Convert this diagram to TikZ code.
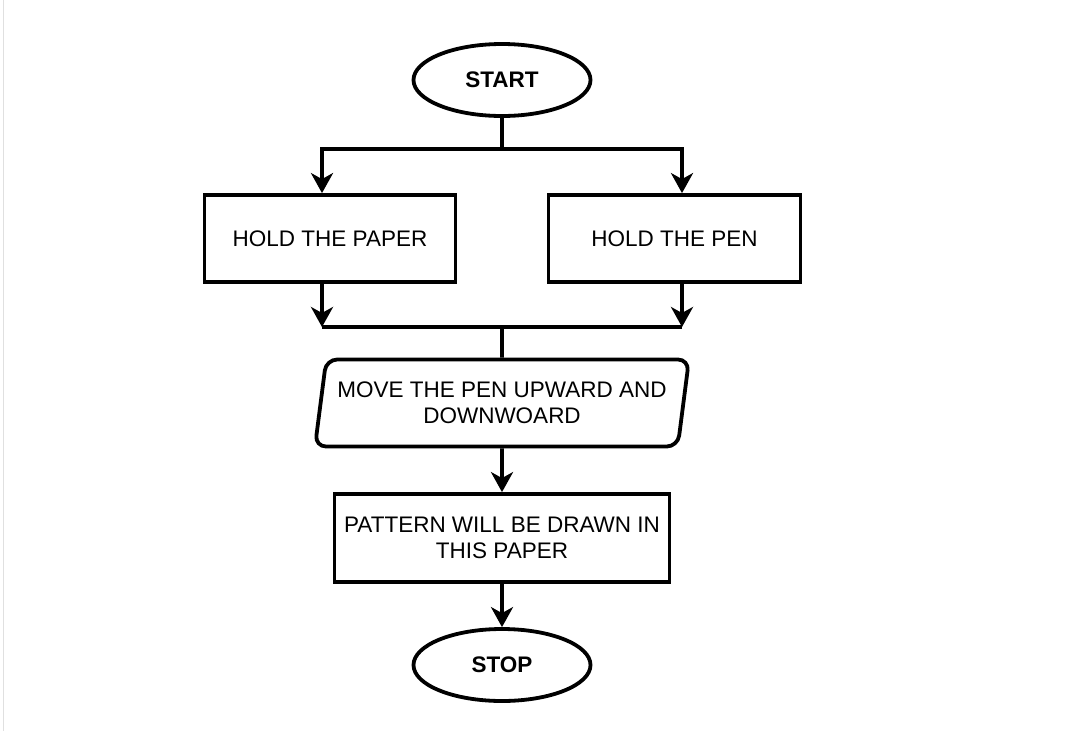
\documentclass[tikz,border=0pt]{standalone}
\usepackage{fontspec}
\setmainfont{Liberation Sans}
\usetikzlibrary{shapes.geometric,arrows.meta}
\tikzset{
  flowline/.style={line width=3.8pt},
  flowarrow/.style={flowline,-{Stealth[length=20pt,width=22pt,inset=6pt]}},
  terminal/.style={draw,ellipse,line width=3.8pt,minimum width=177pt,minimum height=72pt,
    inner sep=0pt,font=\fontsize{22.5}{26}\selectfont\bfseries},
  process/.style={draw,rectangle,line width=3.8pt,align=center,inner sep=0pt,
    font=\fontsize{22.5}{26}\selectfont},
  inout/.style={draw,trapezium,trapezium left angle=75,trapezium right angle=105,
    trapezium stretches body,rounded corners=11pt,line width=3.8pt,align=center,inner sep=0pt,
    minimum width=374pt,minimum height=87pt,font=\fontsize{22.5}{26}\selectfont}
}
\begin{document}
\begin{tikzpicture}[x=1pt,y=-1pt]
\useasboundingbox (0,0) rectangle (1070,731);
\draw[black!12,line width=1.5pt] (3.5,0) -- (3.5,731);

\node[terminal] (start) at (502,80) {START};
\node[process,minimum width=251pt,minimum height=87pt] (paper) at (330,238.5) {HOLD THE PAPER};
\node[process,minimum width=252pt,minimum height=87pt] (pen) at (674.5,238.5) {HOLD THE PEN};
\node[inout] (move) at (502,403) {MOVE THE PEN UPWARD AND\\DOWNWOARD};
\node[process,minimum width=335pt,minimum height=88pt] (pattern) at (502,538) {PATTERN WILL BE DRAWN IN\\THIS PAPER};
\node[terminal] (stop) at (502,665) {STOP};

% split and merge points
\coordinate (split) at (502,149);
\coordinate (splitL) at (322,149);
\coordinate (splitR) at (682,149);
\coordinate (mergeL) at (322,327);
\coordinate (mergeR) at (682,327);
\coordinate (merge) at (502,327);

\draw[flowline] (start) -- (split);
\draw[flowline,line cap=rect] (splitL) -- (splitR);
\draw[flowarrow] (splitL) -- (splitL |- paper.north);
\draw[flowarrow] (splitR) -- (splitR |- pen.north);
\draw[flowarrow] (mergeL |- paper.south) -- (mergeL);
\draw[flowarrow] (mergeR |- pen.south) -- (mergeR);
\draw[flowline] (mergeL) -- (mergeR);
\draw[flowline] (merge) -- (move.north);
\draw[flowarrow] (move.south) -- (pattern.north);
\draw[flowarrow] (pattern.south) -- (stop.north);
\end{tikzpicture}
\end{document}
